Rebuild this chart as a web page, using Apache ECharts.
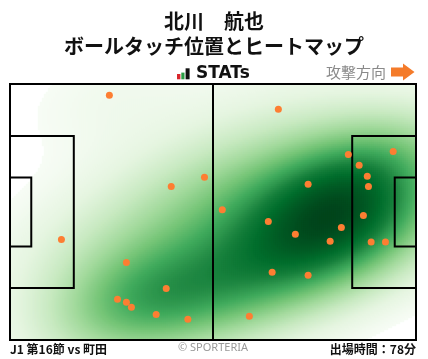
<!DOCTYPE html>
<html><head><meta charset="utf-8">
<script src="https://cdn.jsdelivr.net/npm/echarts@6/dist/echarts.min.js"></script>
<style>html,body{margin:0;padding:0;background:#fff}#c{width:428px;height:359px}</style>
</head><body><div id="c"></div>
<script>
// Ball touch positions (metres, x: 0-105 attacking to the right, y: 0-68 bottom to top)
const touchX = [25.7, 41.7, 50.3, 69.4, 87.5, 90.3, 99.1, 77.1, 92.4, 92.7, 54.9, 13.3, 30.1, 40.4, 27.8, 30.1, 31.4, 37.8, 46.0, 66.8, 73.8, 85.7, 82.8, 91.4, 93.4, 97.1, 67.8, 77.1, 61.9];
const touchY = [65.0, 40.8, 43.2, 61.3, 49.3, 46.4, 50.1, 41.4, 43.5, 40.8, 34.6, 26.7, 20.6, 13.7, 10.8, 10.0, 8.7, 6.8, 5.5, 31.5, 28.1, 29.9, 26.2, 33.1, 26.0, 26.0, 18.0, 17.2, 6.3];

const titleName = '北川　航也';
const titleSub = 'ボールタッチ位置とヒートマップ';
const matchLabel = 'J1 第16節 vs 町田';
const minutesLabel = '出場時間：78分';

const L = 105, W = 68;
const NX = 203, NY = 128;
const greens = ['#f7fcf5','#e5f5e0','#c7e9c0','#a1d99b','#74c476','#41ab5d','#238b45','#006d2c','#00441b'];
const bwAdjust = 1.3, thresh = 0.05;

// Gaussian KDE (Scott's rule, full covariance) of the touch points
const n = touchX.length;
const mx = touchX.reduce((a,b)=>a+b,0)/n, my = touchY.reduce((a,b)=>a+b,0)/n;
let sxx=0, syy=0, sxy=0;
for (let i=0;i<n;i++){ const dx=touchX[i]-mx, dy=touchY[i]-my; sxx+=dx*dx; syy+=dy*dy; sxy+=dx*dy; }
sxx/=(n-1); syy/=(n-1); sxy/=(n-1);
const fac = Math.pow(n, -1/6)*bwAdjust;
const cxx = sxx*fac*fac, cyy = syy*fac*fac, cxy = sxy*fac*fac;
const det = cxx*cyy - cxy*cxy;
const ixx = cyy/det, iyy = cxx/det, ixy = -cxy/det;
const norm = 1/(n*2*Math.PI*Math.sqrt(det));
function dens(x,y){
  let s=0;
  for (let i=0;i<n;i++){ const dx=x-touchX[i], dy=y-touchY[i]; s+=Math.exp(-0.5*(ixx*dx*dx+2*ixy*dx*dy+iyy*dy*dy)); }
  return s*norm;
}
// iso-proportion levels on an extended support grid
const bwx = fac*Math.sqrt(sxx), bwy = fac*Math.sqrt(syy);
const x0 = Math.min(...touchX)-3*bwx, x1 = Math.max(...touchX)+3*bwx;
const y0 = Math.min(...touchY)-3*bwy, y1 = Math.max(...touchY)+3*bwy;
const G=200, vals=[];
for (let i=0;i<G;i++) for (let j=0;j<G;j++) vals.push(dens(x0+(x1-x0)*i/(G-1), y0+(y1-y0)*j/(G-1)));
vals.sort((a,b)=>b-a);
const cums=[]; let acc=0;
for (const v of vals){ acc+=v; cums.push(acc); }
const tot = acc;
function massAbove(d){ // fraction of mass with density >= d
  let lo=0, hi=vals.length; // vals descending
  while(lo<hi){ const m=(lo+hi)>>1; if (vals[m]>=d) lo=m+1; else hi=m; }
  return lo===0 ? 0 : cums[lo-1]/tot;
}
const heat=[];
for (let i=0;i<NX;i++) for (let j=0;j<NY;j++){
  const d = dens((i+0.5)*L/NX, (j+0.5)*W/NY);
  const p = 1 - massAbove(d);
  if (p>=thresh) heat.push([i,j,(p-thresh)/(1-thresh)]);
}

// pitch markings
const pa = 16.5, paw = 40.32, ga = 5.5, gaw = 18.32;
const lines = [
  [[0,0],[L,0],[L,W],[0,W],[0,0]],
  [[L/2,0],[L/2,W]],
  [[0,W/2-paw/2],[pa,W/2-paw/2],[pa,W/2+paw/2],[0,W/2+paw/2]],
  [[0,W/2-gaw/2],[ga,W/2-gaw/2],[ga,W/2+gaw/2],[0,W/2+gaw/2]],
  [[L,W/2-paw/2],[L-pa,W/2-paw/2],[L-pa,W/2+paw/2],[L,W/2+paw/2]],
  [[L,W/2-gaw/2],[L-ga,W/2-gaw/2],[L-ga,W/2+gaw/2],[L,W/2+gaw/2]]
];

const gridPos = {left:10, right:12, top:84, bottom:19};
const chart = echarts.init(document.getElementById('c'), null, {renderer:'canvas'});
const series = [{
  type:'heatmap', xAxisIndex:0, yAxisIndex:0, data:heat, progressive:0, silent:true,
  emphasis:{disabled:true}
}];
lines.forEach(l=>series.push({type:'line', xAxisIndex:1, yAxisIndex:1, data:l, showSymbol:false, symbol:'none', clip:false, silent:true, z:3,
  lineStyle:{color:'#000', width:2, cap:'square', join:'miter'}}));
series.push({type:'scatter', xAxisIndex:1, yAxisIndex:1, data:touchX.map((x,i)=>[x,touchY[i]]), symbolSize:7, z:4, silent:true,
  itemStyle:{color:'#fd7e32', opacity:1}});

const option = {
  animation:false,
  backgroundColor:'#fff',
  grid:[Object.assign({},gridPos), Object.assign({},gridPos)],
  xAxis:[
    {type:'category', gridIndex:0, data:Array.from({length:NX},(_,i)=>i), show:false},
    {type:'value', gridIndex:1, min:0, max:L, show:false}
  ],
  yAxis:[
    {type:'category', gridIndex:0, data:Array.from({length:NY},(_,i)=>i), show:false},
    {type:'value', gridIndex:1, min:0, max:W, show:false}
  ],
  visualMap:{type:'continuous', show:false, seriesIndex:0, min:0, max:1, inRange:{color:greens}},
  graphic:[
    {type:'text', left:'center', top:11, style:{text:titleName, font:'bold 20px "Noto Sans CJK JP"', fill:'#111'}},
    {type:'text', left:'center', top:36, style:{text:titleSub, font:'bold 20px "Noto Sans CJK JP"', fill:'#111'}},
    {type:'rect', shape:{x:177, y:74, width:3.4, height:5.3}, style:{fill:'#d9262c'}},
    {type:'rect', shape:{x:181.3, y:72.6, width:3.2, height:6.7}, style:{fill:'#2a9d45'}},
    {type:'rect', shape:{x:185.6, y:68.3, width:4, height:11}, style:{fill:'#111'}},
    {type:'text', x:196, y:74, style:{text:'STATs', font:'bold 17px "DejaVu Sans"', fill:'#111', textVerticalAlign:'middle'}},
    {type:'text', x:326, y:72, style:{text:'攻撃方向', font:'15px "Noto Sans CJK JP"', fill:'#8a8a8a', textVerticalAlign:'middle'}},
    {type:'polygon', shape:{points:[[391,67.5],[403,67.5],[403,63.5],[414.5,72],[403,80.5],[403,76.5],[391,76.5]]}, style:{fill:'#f47b2a'}},
    {type:'text', x:10, y:349, style:{text:matchLabel, font:'bold 12px "Noto Sans CJK JP"', fill:'#111', textVerticalAlign:'middle'}},
    {type:'text', x:213, y:348, style:{text:'© SPORTERIA', font:'11px "Noto Sans"', fill:'#999', textAlign:'center', textVerticalAlign:'middle'}},
    {type:'text', x:416, y:349, style:{text:minutesLabel, font:'bold 12px "Noto Sans CJK JP"', fill:'#111', textAlign:'right', textVerticalAlign:'middle'}}
  ],
  series: series
};
chart.setOption(option);
</script></body></html>
